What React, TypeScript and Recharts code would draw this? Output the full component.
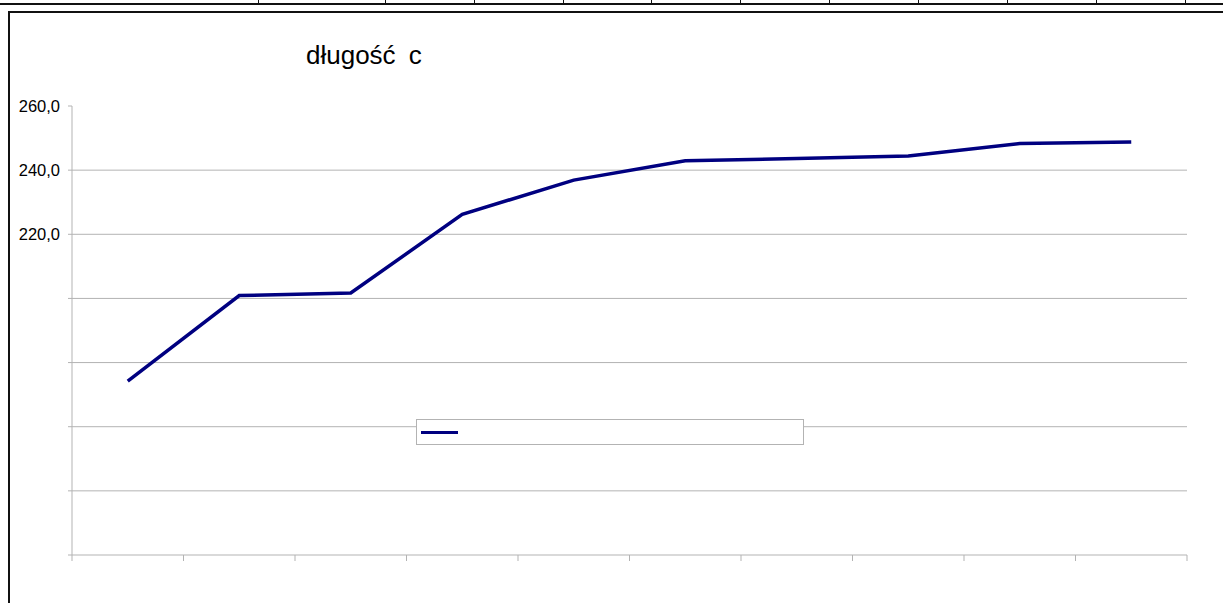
import React from 'react';
import { LineChart, Line, XAxis, YAxis, ReferenceLine, Legend } from 'recharts';

// categories (labels are cut off in the original sheet)
const categories = [1, 2, 3, 4, 5, 6, 7, 8, 9, 10];
const lengthValues = [174.2, 200.9, 201.7, 226.2, 236.9, 242.9, 243.6, 244.4, 248.3, 248.8];

const yTicks = [120, 140, 160, 180, 200, 220, 240, 260];
const yTickLabels = ['', '', '', '', '', '220,0', '240,0', '260,0'];
const gridValues = [140, 160, 180, 200, 220, 240];

// spreadsheet cell borders above the chart
const cellEdges = [258, 385, 474, 563, 651, 740, 829, 918, 1007, 1096, 1185];

const chartData = categories.map((c, i) => ({ x: c, value: lengthValues[i] }));
const xTicks = [...categories.map(c => c - 0.5), categories[categories.length - 1] + 0.5];

const AXIS = '#b3b3b3';
const NAVY = '#000080';

const LegendBox = () => (
  <div
    style={{
      width: 388,
      height: 26,
      boxSizing: 'border-box',
      border: `1px solid ${AXIS}`,
      background: '#fff',
      position: 'relative',
    }}
  >
    <div style={{ position: 'absolute', left: 4, top: 11, width: 37, height: 3, background: NAVY }} />
  </div>
);

export default function App() {
  return (
    <div
      style={{
        position: 'absolute',
        left: 0,
        top: 0,
        width: 1223,
        height: 603,
        overflow: 'hidden',
        background: '#fff',
        fontFamily: '"Liberation Sans", Arial, sans-serif',
      }}
    >
      {/* sheet row line */}
      <div style={{ position: 'absolute', left: 0, top: 3, width: 1223, height: 2, background: '#111' }} />
      {cellEdges.map(x => (
        <div key={x} style={{ position: 'absolute', left: x, top: 0, width: 1, height: 4, background: '#111' }} />
      ))}

      {/* chart frame */}
      <div
        style={{
          position: 'absolute',
          left: 8,
          top: 11,
          width: 1300,
          height: 700,
          border: '2px solid #111',
        }}
      />

      <div
        style={{
          position: 'absolute',
          left: 306,
          top: 42,
          whiteSpace: 'nowrap',
          fontSize: 26,
          lineHeight: '26px',
          wordSpacing: 6,
          color: '#000',
        }}
      >
        długość c
      </div>

      <div style={{ position: 'absolute', left: 0, top: 0 }}>
        <LineChart
          width={1223}
          height={603}
          data={chartData}
          margin={{ top: 106, right: 36, bottom: 14, left: 0 }}
        >
          {gridValues.map(v => (
            <ReferenceLine key={v} y={v} stroke={AXIS} strokeWidth={1} />
          ))}
          <XAxis
            dataKey="x"
            type="number"
            domain={[0.5, 10.5]}
            ticks={xTicks}
            height={8}
            tickSize={6}
            tickFormatter={() => ''}
            axisLine={{ stroke: AXIS }}
            tickLine={{ stroke: AXIS }}
          />
          <YAxis
            domain={[120, 260]}
            ticks={yTicks}
            width={72}
            tickSize={4}
            tickMargin={8}
            tickFormatter={(v: number) => yTickLabels[yTicks.indexOf(v)] ?? ''}
            tick={{ fill: '#000', fontSize: 16.5, fontFamily: '"Liberation Sans", Arial, sans-serif' }}
            axisLine={{ stroke: AXIS }}
            tickLine={{ stroke: AXIS }}
            allowDataOverflow
          />
          <Legend
            content={<LegendBox />}
            wrapperStyle={{ left: 416, top: 419, width: 388, height: 26, bottom: 'auto' }}
          />
          <Line
            type="linear"
            dataKey="value"
            name=""
            stroke={NAVY}
            strokeWidth={3.5}
            dot={false}
            activeDot={false}
            isAnimationActive={false}
          />
        </LineChart>
      </div>
    </div>
  );
}
